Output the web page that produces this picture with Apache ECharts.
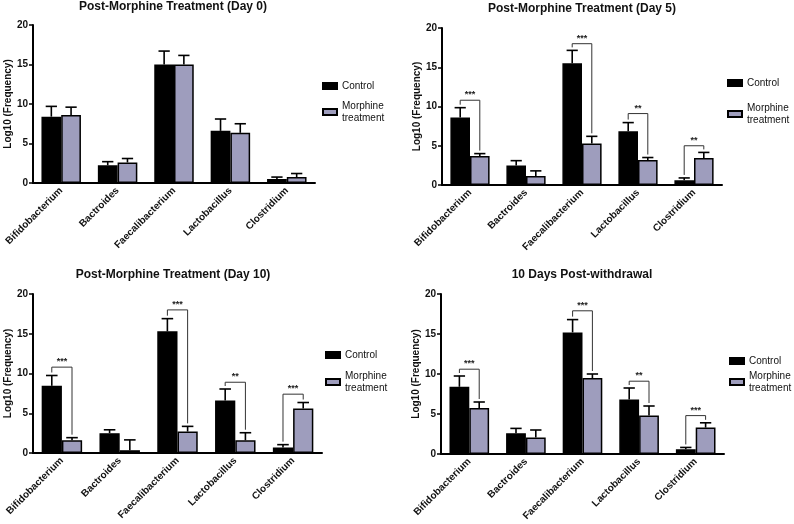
<!DOCTYPE html>
<html>
<head>
<meta charset="utf-8">
<script src="https://cdn.jsdelivr.net/npm/echarts@6/dist/echarts.min.js"></script>
<style>
  html, body { margin: 0; padding: 0; background: #fff; }
  #chart { width: 794px; height: 524px; }
</style>
</head>
<body>
<div id="chart"></div>
<script>
const categories = ["Bifidobacterium", "Bactroides", "Faecalibacterium", "Lactobacillus", "Clostridium"];
const titles = ["Post-Morphine Treatment (Day 0)", "Post-Morphine Treatment (Day 5)",
                "Post-Morphine Treatment (Day 10)", "10 Days Post-withdrawal"];
const yTicks = [0, 5, 10, 15, 20];

// Day 0
const day0Control = [8.4, 2.25, 15.0, 6.6, 0.5];
const day0ControlErr = [1.3, 0.45, 1.7, 1.5, 0.25];
const day0Morphine = [8.6, 2.6, 15.0, 6.35, 0.75];
const day0MorphineErr = [1.0, 0.5, 1.15, 1.15, 0.45];
const day0Sig = ["", "", "", "", ""];
const day0Bracket = [0, 0, 0, 0, 0];

// Day 5
const day5Control = [8.6, 2.5, 15.5, 6.85, 0.6];
const day5ControlErr = [1.25, 0.6, 1.65, 1.1, 0.3];
const day5Morphine = [3.7, 1.15, 5.3, 3.2, 3.45];
const day5MorphineErr = [0.3, 0.65, 0.9, 0.3, 0.7];
const day5Sig = ["***", "", "***", "**", "**"];
const day5Bracket = [10.8, 0, 18.0, 9.1, 5.0];

// Day 10
const day10Control = [8.45, 2.5, 15.3, 6.6, 0.7];
const day10ControlErr = [1.3, 0.42, 1.6, 1.45, 0.35];
const day10Morphine = [1.6, 0.35, 2.7, 1.6, 5.6];
const day10MorphineErr = [0.33, 1.3, 0.65, 0.95, 0.75];
const day10Sig = ["***", "", "***", "**", "***"];
const day10Bracket = [10.8, 0, 18.0, 8.9, 7.4];

// 10 days post-withdrawal
const withdrawalControl = [8.4, 2.6, 15.2, 6.8, 0.6];
const withdrawalControlErr = [1.35, 0.6, 1.6, 1.45, 0.22];
const withdrawalMorphine = [5.75, 2.05, 9.5, 4.8, 3.3];
const withdrawalMorphineErr = [0.75, 0.95, 0.5, 1.2, 0.6];
const withdrawalSig = ["***", "", "***", "**", "***"];
const withdrawalBracket = [10.6, 0, 17.9, 9.1, 4.8];

const morphColor = "#9e9dbd";
const font = "'Liberation Sans', Arial, sans-serif";

const panels = [
  { c: day0Control, ce: day0ControlErr, m: day0Morphine, me: day0MorphineErr, sig: day0Sig, br: day0Bracket,
    grid: { left: 33, top: 25, width: 282, height: 158 }, titleX: 173, titleY: 1, legend: { left: 322, top: 80, gap: 8 } },
  { c: day5Control, ce: day5ControlErr, m: day5Morphine, me: day5MorphineErr, sig: day5Sig, br: day5Bracket,
    grid: { left: 442, top: 28, width: 280, height: 157 }, titleX: 582, titleY: 3, legend: { left: 727, top: 77, gap: 13 } },
  { c: day10Control, ce: day10ControlErr, m: day10Morphine, me: day10MorphineErr, sig: day10Sig, br: day10Bracket,
    grid: { left: 33, top: 294, width: 289, height: 159 }, titleX: 173, titleY: 269, legend: { left: 325, top: 349, gap: 9 } },
  { c: withdrawalControl, ce: withdrawalControlErr, m: withdrawalMorphine, me: withdrawalMorphineErr, sig: withdrawalSig, br: withdrawalBracket,
    grid: { left: 441, top: 294, width: 283, height: 160 }, titleX: 582, titleY: 269, legend: { left: 729, top: 355, gap: 3 } }
];

const chart = echarts.init(document.getElementById("chart"));

const option = {
  animation: false,
  backgroundColor: "#fff",
  textStyle: { fontFamily: font },
  title: [], legend: [], grid: [], xAxis: [], yAxis: [], series: []
};

function errorRender(offsetSign) {
  return function (params, api) {
    const band = api.size([1, 0])[0];
    const top = api.coord([api.value(0), api.value(1) + api.value(2)]);
    const base = api.coord([api.value(0), api.value(1)]);
    const x = base[0] + offsetSign * band * 0.175;
    const cap = band * 0.1;
    return {
      type: "group",
      children: [
        { type: "line", shape: { x1: x, y1: base[1], x2: x, y2: top[1] }, style: { stroke: "#000", lineWidth: 1.6 } },
        { type: "line", shape: { x1: x - cap, y1: top[1], x2: x + cap, y2: top[1] }, style: { stroke: "#000", lineWidth: 1.6 } }
      ]
    };
  };
}

panels.forEach(function (p, i) {
  option.title.push({
    text: titles[i], left: p.titleX, top: p.titleY, textAlign: "center", padding: 0,
    textStyle: { fontSize: 12, fontWeight: "bold", color: "#111", fontFamily: font }
  });
  option.legend.push({
    data: ["Control", "Morphine treatment"],
    orient: "vertical", left: p.legend.left, top: p.legend.top, itemGap: p.legend.gap, padding: 0,
    itemWidth: 14, itemHeight: 6, icon: "rect", selectedMode: false,
    formatter: function (name) { return name === "Morphine treatment" ? "Morphine\ntreatment" : name; },
    textStyle: { fontSize: 10, color: "#111", lineHeight: 12, fontFamily: font }
  });
  option.grid.push(Object.assign({ containLabel: false }, p.grid));
  option.xAxis.push({
    type: "category", gridIndex: i, data: categories,
    axisLine: { lineStyle: { color: "#000", width: 2 } },
    axisTick: { alignWithLabel: true, length: 4, lineStyle: { color: "#000", width: 1.5 } },
    axisLabel: { rotate: 45, fontSize: 10, fontWeight: "bold", color: "#111", margin: 6, interval: 0, fontFamily: font }
  });
  option.yAxis.push({
    type: "value", gridIndex: i, min: yTicks[0], max: yTicks[yTicks.length - 1], interval: 5,
    name: "Log10 (Frequency)", nameLocation: "middle", nameGap: 20,
    nameTextStyle: { fontSize: 10, fontWeight: "bold", color: "#111", fontFamily: font },
    axisLine: { show: true, lineStyle: { color: "#000", width: 2 } },
    axisTick: { show: true, length: 4, lineStyle: { color: "#000", width: 1.5 } },
    axisLabel: { fontSize: 10, fontWeight: "bold", color: "#111", margin: 5, fontFamily: font },
    splitLine: { show: false }
  });
  option.series.push({
    name: "Control", type: "bar", xAxisIndex: i, yAxisIndex: i, data: p.c,
    barGap: "0%", barCategoryGap: "30%",
    itemStyle: { color: "#000", borderColor: "#000", borderWidth: 1.5 }
  });
  option.series.push({
    name: "Morphine treatment", type: "bar", xAxisIndex: i, yAxisIndex: i, data: p.m,
    barGap: "0%", barCategoryGap: "30%",
    itemStyle: { color: morphColor, borderColor: "#000", borderWidth: 1.5 }
  });
  option.series.push({
    type: "custom", xAxisIndex: i, yAxisIndex: i, z: 3, silent: true,
    data: p.c.map(function (v, k) { return [k, v, p.ce[k]]; }),
    renderItem: errorRender(-1)
  });
  option.series.push({
    type: "custom", xAxisIndex: i, yAxisIndex: i, z: 3, silent: true,
    data: p.m.map(function (v, k) { return [k, v, p.me[k]]; }),
    renderItem: errorRender(1)
  });
  const brData = [];
  p.sig.forEach(function (s, k) {
    if (s) brData.push([k, p.c[k] + p.ce[k], p.m[k] + p.me[k], p.br[k]]);
  });
  if (brData.length) {
    option.series.push({
      type: "custom", xAxisIndex: i, yAxisIndex: i, z: 4, silent: true,
      data: brData,
      renderItem: function (params, api) {
        const k = api.value(0);
        const band = api.size([1, 0])[0];
        const base = api.coord([k, api.value(3)]);
        const yc = api.coord([k, api.value(1)])[1] - 3;
        const ym = api.coord([k, api.value(2)])[1] - 3;
        const xc = base[0] - band * 0.175;
        const xm = base[0] + band * 0.175;
        return {
          type: "group",
          children: [
            { type: "polyline", shape: { points: [[xc, yc], [xc, base[1]], [xm, base[1]], [xm, ym]] },
              style: { stroke: "#333", lineWidth: 1, fill: null } },
            { type: "text", style: { text: p.sig[k], x: base[0], y: base[1] - 1, align: "center", verticalAlign: "bottom",
              fontSize: 9, fontWeight: "bold", fill: "#222", fontFamily: font } }
          ]
        };
      }
    });
  }
});

chart.setOption(option);
</script>
</body>
</html>
